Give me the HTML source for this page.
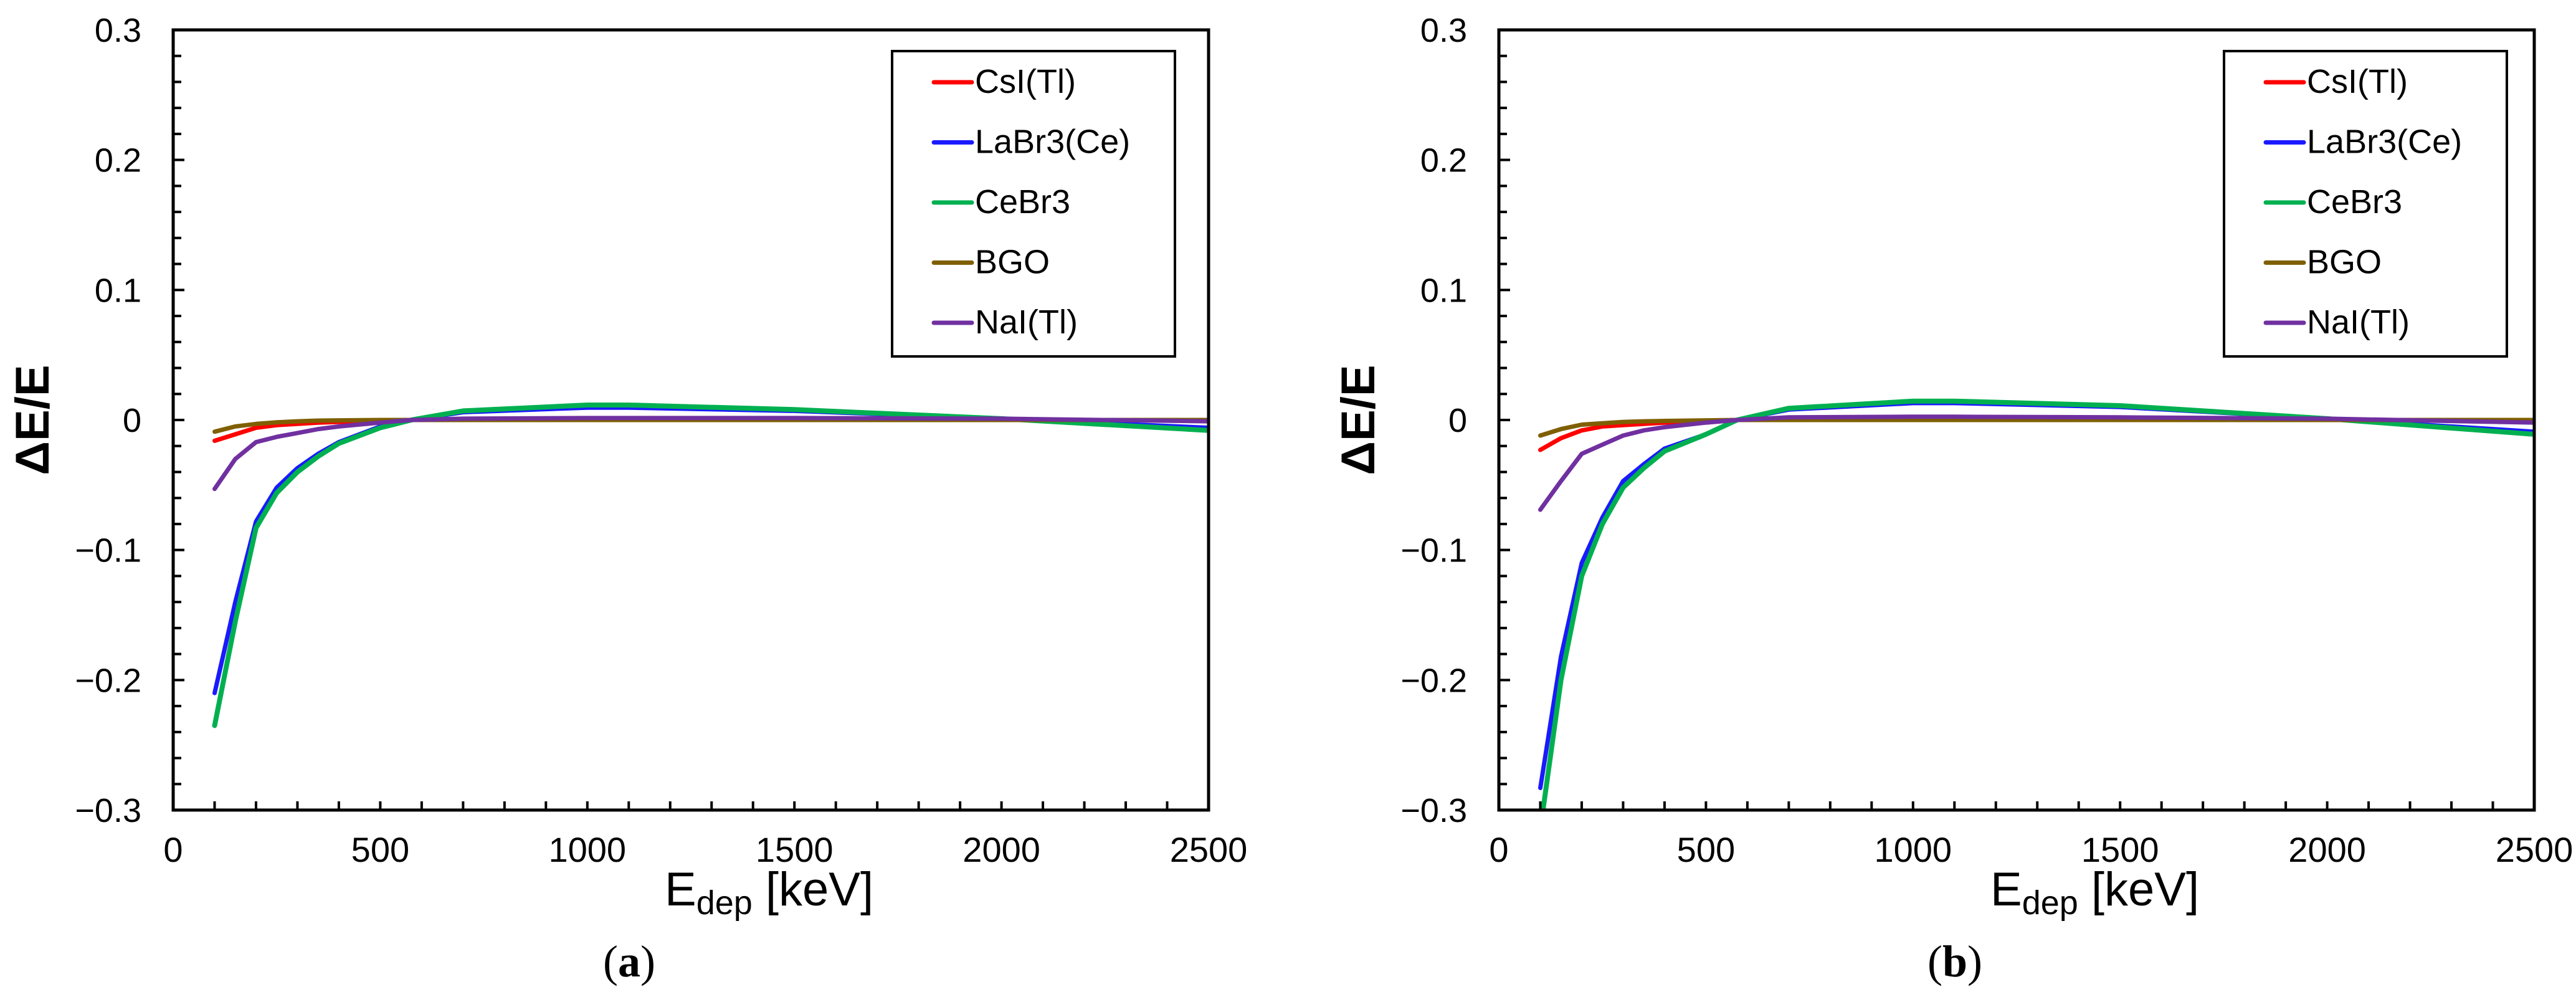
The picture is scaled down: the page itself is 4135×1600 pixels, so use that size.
<!DOCTYPE html>
<html><head><meta charset="utf-8"><style>
html,body{margin:0;padding:0;background:#fff;}
svg{display:block;}
text{font-family:"Liberation Sans",sans-serif;fill:#000;}
</style></head><body>
<svg id="fig" width="4135" height="1600" viewBox="0 0 4135 1600" xmlns="http://www.w3.org/2000/svg"></svg>
<script>
const seriesNames = ["CsI(Tl)","LaBr3(Ce)","CeBr3","BGO","NaI(Tl)"];
const seriesKeys = ["csi","labr3","cebr3","bgo","nai"];
const seriesColors = ["#ff0000","#1a1aff","#00b050","#7f5f00","#7030a0"];
const energies = [100,150,200,250,300,350,400,500,575,700,1000,1100,1500,2000,2500];
const xTicks = [0,500,1000,1500,2000,2500];
const yTicks = [-0.3,-0.2,-0.1,0,0.1,0.2,0.3];
const yTickLabels = ["\u22120.3","\u22120.2","\u22120.1","0","0.1","0.2","0.3"];
// panel (a)
const aCsI   = [-0.016,-0.011,-0.006,-0.004,-0.003,-0.002,-0.0015,-0.001,0,0,0,0,0,0,0];
const aLaBr3 = [-0.21,-0.14,-0.078,-0.052,-0.037,-0.026,-0.017,-0.005,0,0.006,0.0095,0.0095,0.007,0.001,-0.006];
const aCeBr3 = [-0.235,-0.155,-0.083,-0.056,-0.04,-0.028,-0.018,-0.006,0,0.007,0.0115,0.0115,0.008,0.001,-0.008];
const aBGO   = [-0.009,-0.005,-0.003,-0.0018,-0.001,-0.0005,-0.0003,0,0,0,0,0,0,0,0];
const aNaI   = [-0.053,-0.03,-0.017,-0.013,-0.01,-0.007,-0.005,-0.002,0,0.001,0.0015,0.0015,0.0015,0.001,-0.001];
// panel (b)
const bCsI   = [-0.023,-0.014,-0.008,-0.005,-0.004,-0.003,-0.002,-0.001,0,0,0,0,0,0,0];
const bLaBr3 = [-0.283,-0.182,-0.11,-0.075,-0.047,-0.034,-0.022,-0.011,0,0.008,0.013,0.013,0.01,0.001,-0.009];
const bCeBr3 = [-0.315,-0.2,-0.12,-0.08,-0.052,-0.037,-0.024,-0.011,0,0.009,0.0145,0.0145,0.011,0.001,-0.011];
const bBGO   = [-0.012,-0.007,-0.0036,-0.0025,-0.0015,-0.001,-0.0007,-0.0003,0,0,0,0,0,0,0];
const bNaI   = [-0.069,-0.047,-0.026,-0.019,-0.012,-0.008,-0.0055,-0.002,0,0.002,0.0025,0.0025,0.002,0.001,-0.002];

const NS="http://www.w3.org/2000/svg";
const svg=document.getElementById('fig');
function mk(tag,attrs,parent){const e=document.createElementNS(NS,tag);for(const k in attrs)e.setAttribute(k,attrs[k]);(parent||svg).appendChild(e);return e;}

function panel(ox,label,data,letter){
  const L=ox+278,R=ox+1940,T=48,B=1300;
  const g=mk('g',{});
  
  
  const xs=v=>L+(v/2500)*(R-L);
  const ys=v=>B-((v+0.3)/0.6)*(B-T);
  const clip=mk('clipPath',{id:'clip'+letter},g);
  mk('rect',{x:L,y:T,width:R-L,height:B-T},clip);
  const sg=mk('g',{'clip-path':'url(#clip'+letter+')'},g);
  data.forEach((arr,i)=>{
    let d='';
    arr.forEach((v,j)=>{d+=(j?'L':'M')+xs(energies[j]).toFixed(1)+','+ys(v).toFixed(1);});
    const p=mk('path',{d:d,fill:'none',stroke:seriesColors[i],'stroke-width':i==2?8:7,'stroke-linejoin':'round','stroke-linecap':'round'},sg);
    
    
  });
  for(let k=0;k<=30;k++){
    const v=-0.3+k*0.02; const y=ys(v); const major=(k%5===0);
    mk('line',{x1:L,x2:L+(major?18:13),y1:y,y2:y,stroke:'#000','stroke-width':4},g);
  }
  for(let k=1;k<25;k++){
    const x=xs(k*100);
    mk('line',{x1:x,x2:x,y1:B,y2:B-14,stroke:'#000','stroke-width':4},g);
  }
  const frame=mk('rect',{x:L,y:T,width:R-L,height:B-T,fill:'none',stroke:'#000','stroke-width':5},g);
  
  
  yTicks.forEach((v,i)=>{
    const t=mk('text',{x:L-51,y:ys(v)+19,'text-anchor':'end','font-size':54},g);
    t.textContent=yTickLabels[i];
    
    
  });
  xTicks.forEach(v=>{
    const t=mk('text',{x:xs(v),y:1383,'text-anchor':'middle','font-size':56},g);
    t.textContent=v;
    
    
  });
  const yt=mk('text',{x:0,y:0,'text-anchor':'middle','font-size':76,'font-weight':'bold',transform:'translate('+(ox+78)+',674) rotate(-90)'},g);
  yt.textContent='\u0394E/E';
  
  
  const xt=mk('text',{x:ox+1067,y:1453,'font-size':76},g);
  
  
  xt.innerHTML='E<tspan font-size="54" dy="14">dep</tspan><tspan dy="-14"> [keV]</tspan>';
  const pl=mk('text',{x:ox+1010,y:1567,'text-anchor':'middle','font-size':72,style:'font-family:"Liberation Serif",serif'},g);
  pl.innerHTML='(<tspan font-weight="bold">'+letter+'</tspan>)';
  
  
  const lg=mk('g',{},g);
  
  
  const lx=R-508+(letter==='b'?10:0);
  mk('rect',{x:lx,y:82,width:454,height:490,fill:'#fff',stroke:'#000','stroke-width':4},lg);
  seriesNames.forEach((n,i)=>{
    const y=132+i*96.5;
    const e=mk('g',{},lg);
    
    
    mk('line',{x1:lx+67,x2:lx+128,y1:y,y2:y,stroke:seriesColors[i],'stroke-width':7,'stroke-linecap':'round'},e);
    const t=mk('text',{x:lx+133,y:y+17,'font-size':54},e);
    t.textContent=n;
  });
}
panel(0,'a',[aCsI,aLaBr3,aCeBr3,aBGO,aNaI],'a');
panel(2128,'b',[bCsI,bLaBr3,bCeBr3,bBGO,bNaI],'b');
</script>
</body></html>
